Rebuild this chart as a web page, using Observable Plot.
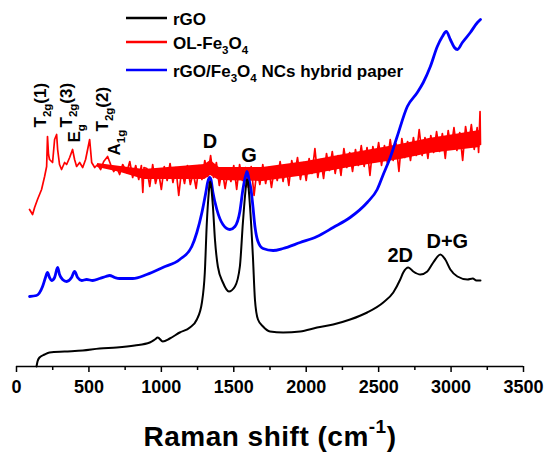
<!DOCTYPE html>
<html><head><meta charset="utf-8">
<script src="https://cdn.jsdelivr.net/npm/d3@7"></script>
<script src="https://cdn.jsdelivr.net/npm/@observablehq/plot@0.6"></script>
<style>
body{margin:0;background:#fff;}
#chart svg{font-family:"Liberation Sans",Arial,sans-serif;}
#chart svg text{font-weight:bold;}
</style></head><body><div id="chart"></div>
<script>
// Raman shift (cm-1), intensity (a.u.)
const xTicks = [0, 500, 1000, 1500, 2000, 2500, 3000, 3500];
const xMinorTicks = [250, 750, 1250, 1750, 2250, 2750, 3250];

const seriesNames = ["rGO", "OL-Fe_{3}O_{4}", "rGO/Fe_{3}O_{4} NCs hybrid paper"];
const seriesColors = ["#000000", "#ff0000", "#0000ff"];

const rGO = [[138,0],[145,5],[159,9],[194,12],[228,14],[332,15],[457,16],[574,18],[692,19],[816,21],[920,24],[955,27],[975,29],[1010,25],[1058,28],[1127,34],[1197,39],[1245,47],[1280,64],[1300,94],[1314,144],[1328,175],[1335,185],[1342,182],[1356,160],[1370,127],[1390,100],[1425,84],[1466,75],[1508,80],[1542,100],[1563,144],[1584,180],[1591,187],[1598,184],[1612,160],[1632,110],[1646,67],[1667,47],[1702,40],[1750,35],[1840,34],[1958,35],[2075,39],[2186,42],[2303,47],[2421,54],[2532,64],[2601,74],[2649,87],[2670,94],[2705,99],[2739,95],[2788,92],[2836,95],[2877,104],[2926,112],[2960,107],[2995,97],[3044,90],[3113,87],[3150,88],[3175,86],[3203,86]];

const olFe3O4 = [[90,157],[111,152],[125,159],[145,167],[173,177],[194,190],[208,200],[214,230],[221,212],[228,207],[249,204],[263,227],[277,232],[284,217],[297,202],[311,197],[332,204],[346,202],[367,209],[387,217],[401,207],[415,200],[436,204],[457,199],[477,207],[491,217],[505,227],[519,204],[540,199],[560,202],[581,197],[602,205],[629,210],[650,202],[671,195],[692,199],[712,192],[733,202],[761,194],[782,205],[802,189],[823,201],[844,187],[862,201],[872,174],[880,199],
[900,198],[920,180],[940,202],[960,183],[980,195],[1000,177],[1020,200],[1040,186],[1060,203],[1080,184],[1100,199],[1120,171],[1140,197],[1160,183],[1180,201],[1200,182],[1220,194],[1240,178],[1260,201],[1280,187],[1300,206],[1320,190],[1340,211],[1360,189],[1380,204],[1400,181],[1420,197],[1440,178],[1460,195],[1480,185],[1500,201],[1520,177],[1540,202],[1560,186],[1580,199],[1600,179],[1620,200],[1640,171],[1660,197],[1680,182],[1700,202],[1720,183],[1740,199],[1760,179],[1780,198],[1800,186],[1820,205],[1840,185],[1860,201],[1880,181],[1900,206],[1920,192],[1940,209],[1960,187],[1980,204],[2000,186],[2020,208],[2040,193],[2060,218],[2080,189],[2100,207],[2120,188],[2140,213],[2160,196],[2180,215],[2200,193],[2220,211],[2240,191],[2260,218],[2280,199],[2300,214],[2320,195],[2340,217],[2360,201],[2380,221],[2400,200],[2420,219],[2440,191],[2460,220],[2480,205],[2500,224],[2520,201],[2540,221],[2560,204],[2580,227],[2600,206],[2620,223],[2640,195],[2660,228],[2680,209],[2700,225],[2720,206],[2740,229],[2760,211],[2780,237],[2800,211],[2820,229],[2840,208],[2860,231],[2880,214],[2900,235],[2920,215],[2940,233],[2960,208],[2980,236],[3000,218],[3020,239],[3040,216],[3060,234],[3080,206],[3100,240],[3120,221],[3140,242],[3160,217],[3180,239],[3190,214],[3200,255],[3203,222]];

// solid core of the noisy red band: [shift, lower, upper]
const olFe3O4Band = [[560,199,203],[720,194,200],[880,187,197],[1300,187,202],[1340,191,206],[1400,186,199],[1700,185,199],[2000,191,205],[2300,199,213],[2650,207,222],[2850,213,228],[3200,219,236]];

const hybrid = [[90,70],[138,71],[180,80],[200,89],[214,94],[228,89],[242,86],[263,89],[284,99],[297,92],[318,87],[346,85],[380,89],[401,95],[422,89],[450,86],[484,87],[526,86],[574,88],[616,90],[643,91],[678,89],[712,88],[802,88],[899,92],[1010,99],[1127,107],[1210,120],[1245,134],[1280,154],[1307,174],[1321,185],[1335,189],[1342,187],[1356,174],[1383,157],[1425,142],[1473,137],[1508,140],[1542,155],[1563,177],[1584,192],[1591,195],[1605,187],[1619,177],[1632,160],[1646,140],[1667,125],[1702,118],[1771,116],[1840,118],[1958,124],[2075,130],[2186,139],[2303,149],[2421,164],[2490,177],[2532,192],[2580,209],[2628,230],[2698,260],[2767,274],[2808,284],[2857,300],[2905,320],[2940,330],[2967,335],[2995,327],[3023,319],[3044,317],[3078,324],[3133,334],[3182,344],[3203,347]];

const peakLabels = [
  {label: "D", shift: 1335, intensity: 219},
  {label: "G", shift: 1605, intensity: 205},
  {label: "2D", shift: 2649, intensity: 105},
  {label: "D+G", shift: 2974, intensity: 119}
];
const phononLabels = [
  {label: "T_{2g}(1)", shift: 201, intensity: 239},
  {label: "T_{2g}(3)", shift: 380, intensity: 239},
  {label: "E_{g}", shift: 436, intensity: 224},
  {label: "T_{2g}(2)", shift: 629, intensity: 235},
  {label: "A_{1g}", shift: 712, intensity: 211}
];
const axisTitle = "Raman shift (cm^{-1})";

const P = d => d[0], Y = d => d[1];

const chart = Plot.plot({
  width: 551, height: 452,
  marginLeft: 16, marginRight: 28, marginTop: 0, marginBottom: 86,
  style: {fontFamily: "'Liberation Sans', Arial, sans-serif", background: "white"},
  x: {domain: [0, 3500]},
  y: {domain: [0, 366], axis: null},
  marks: [
    Plot.areaY(olFe3O4Band, {x: P, y1: d => d[1], y2: d => d[2], fill: seriesColors[1]}),
    Plot.line(olFe3O4, {x: P, y: Y, stroke: seriesColors[1], strokeWidth: 1.7}),
    Plot.line(hybrid, {x: P, y: Y, stroke: seriesColors[2], strokeWidth: 2.8, curve: "monotone-x"}),
    Plot.line(rGO, {x: P, y: Y, stroke: seriesColors[0], strokeWidth: 2, curve: "monotone-x"}),
    Plot.ruleY([0], {strokeWidth: 1.5}),
    Plot.axisX(xTicks, {tickSize: 6, tickPadding: 8, fontSize: 18, fontWeight: "bold", strokeWidth: 1.5, tickFormat: d => String(d), label: null}),
    Plot.axisX(xMinorTicks, {tickSize: 4, strokeWidth: 1.5, tickFormat: () => "", label: null}),
    Plot.text(peakLabels, {x: "shift", y: "intensity", text: "label", fontSize: 20, fontWeight: "bold", lineAnchor: "bottom"}),
    Plot.text(phononLabels, {x: "shift", y: "intensity", text: "label", fontSize: 17, fontWeight: "bold", rotate: -90, textAnchor: "start", lineAnchor: "bottom"}),
    Plot.text([axisTitle], {text: d => d, frameAnchor: "bottom", dy: 79, lineAnchor: "bottom", fontSize: 28, fontWeight: "bold"})
  ]
});

document.getElementById("chart").appendChild(chart);

// legend
const svg = d3.select(chart);
const legendRows = [18, 42, 70];
const lg = svg.append("g").attr("font-size", 17).attr("font-weight", "bold").attr("text-anchor", "start");
seriesNames.forEach((name, i) => {
  lg.append("line").attr("x1", 126).attr("x2", 167).attr("y1", legendRows[i]).attr("y2", legendRows[i])
    .attr("stroke", seriesColors[i]).attr("stroke-width", 2.5);
  lg.append("text").attr("x", 173).attr("y", legendRows[i] + 6.5).text(name);
});

// sub/superscripts
function richText(el) {
  const s = el.textContent;
  if (!/[_^]\{/.test(s)) return;
  const fs = parseFloat(getComputedStyle(el).fontSize) || 16;
  el.textContent = "";
  const parts = s.split(/([_^]\{[^}]*\})/).filter(p => p);
  let shift = 0;
  for (const p of parts) {
    const t = document.createElementNS("http://www.w3.org/2000/svg", "tspan");
    let target = 0, txt = p, small = false;
    if (p.startsWith("_{")) { target = 0.3 * fs; txt = p.slice(2, -1); small = true; }
    else if (p.startsWith("^{")) { target = -0.45 * fs; txt = p.slice(2, -1); small = true; }
    t.setAttribute("dy", target - shift);
    shift = target;
    if (small) t.setAttribute("font-size", 0.68 * fs);
    t.textContent = txt;
    el.appendChild(t);
  }
}
chart.querySelectorAll("text").forEach(richText);
// title spacing
chart.querySelectorAll("text").forEach(el => { if (el.textContent.startsWith("Raman")) el.setAttribute("letter-spacing", "0.5"); });
</script></body></html>
